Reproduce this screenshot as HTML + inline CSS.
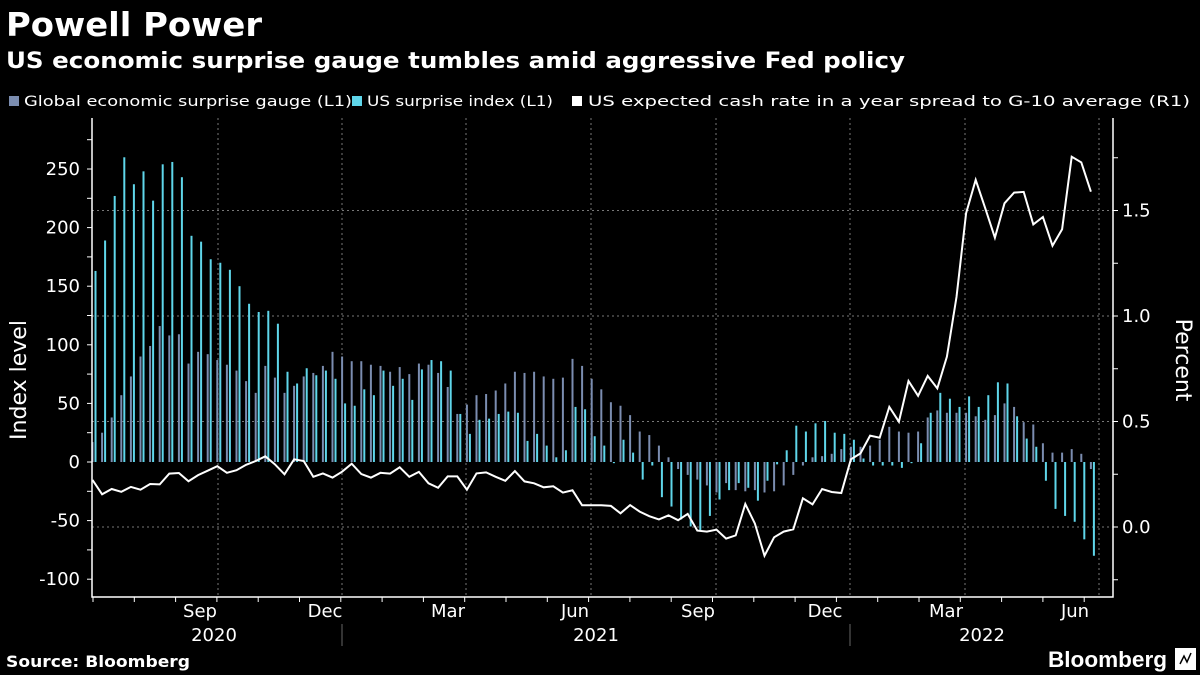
<!DOCTYPE html>
<html><head><meta charset="utf-8">
<style>
html,body{margin:0;padding:0;background:#000;}
body{width:1200px;height:675px;overflow:hidden;font-family:"DejaVu Sans","Liberation Sans",sans-serif;color:#fff;position:relative;}
</style></head>
<body>
<svg id="chart" width="1200" height="675" style="position:absolute;left:0;top:0;">
<text x="6" y="36" fill="#fff" font-size="33" font-weight="bold" font-family="DejaVu Sans, sans-serif" textLength="256" lengthAdjust="spacingAndGlyphs">Powell Power</text>
<text x="6" y="68" fill="#fff" font-size="22" font-weight="bold" font-family="DejaVu Sans, sans-serif" textLength="899" lengthAdjust="spacingAndGlyphs">US economic surprise gauge tumbles amid aggressive Fed policy</text>
<g font-family="DejaVu Sans, sans-serif" font-size="14.5" fill="#fff">
<rect x="9" y="96" width="10" height="10" fill="#7b8db0"/>
<text x="24" y="106" textLength="328" lengthAdjust="spacingAndGlyphs">Global economic surprise gauge (L1)</text>
<rect x="352" y="96" width="10" height="10" fill="#5fd6ea"/>
<text x="367" y="106" textLength="186" lengthAdjust="spacingAndGlyphs">US surprise index (L1)</text>
<rect x="572" y="96" width="10" height="10" fill="#fff"/>
<text x="588" y="106" textLength="602" lengthAdjust="spacingAndGlyphs">US expected cash rate in a year spread to G-10 average (R1)</text>
</g>
<text x="6" y="667" fill="#fff" font-size="16" font-weight="bold" font-family="DejaVu Sans, sans-serif" textLength="184" lengthAdjust="spacingAndGlyphs">Source: Bloomberg</text>
<text x="1048" y="667" fill="#fff" font-size="22" font-weight="bold" font-family="Liberation Sans, sans-serif" textLength="119" lengthAdjust="spacingAndGlyphs">Bloomberg</text>
<g>
<rect x="1175" y="648" width="21" height="22" fill="#fff"/>
<path d="M1180,664 L1184,656 L1187,662 L1191,653" stroke="#000" stroke-width="1.5" fill="none"/>
</g>
</svg>
<script>
const globalVals=[17,25,38,57,73,90,99,116,108,109,84,94,92,87,83,78,69,59,82,72,59,65,73,76,82,94,90,86,86,83,82,77,81,75,84,83,76,64,41,49,57,58,61,67,77,76,77,73,71,72,88,82,71,62,51,48,40,26,23,14,4,-6,-11,-15,-20,-26,-18,-24,-25,-24,-26,-25,-20,-11,-3,4,5,7,11,13,13,14,19,30,26,25,26,38,44,42,42,42,39,36,40,50,47,34,32,16,8,8,11,7,-6];
const usVals=[163,189,227,260,237,248,223,254,256,243,193,188,173,170,164,150,135,128,129,118,77,67,80,74,78,71,50,48,62,57,78,65,71,53,79,87,86,78,41,24,36,37,41,43,42,18,24,14,4,10,47,45,22,14,-1,19,8,-15,-3,-30,-38,-49,-55,-58,-46,-32,-24,-18,-22,-33,-16,-2,10,31,26,33,35,25,24,19,3,-3,-3,-3,-5,-1,16,42,59,54,47,56,47,57,68,67,39,20,13,-16,-40,-46,-51,-66,-80];
const rateVals=[0.223,0.155,0.18,0.167,0.19,0.177,0.204,0.202,0.253,0.256,0.217,0.246,0.267,0.288,0.257,0.269,0.295,0.313,0.335,0.297,0.25,0.321,0.313,0.238,0.254,0.234,0.262,0.3,0.251,0.234,0.257,0.253,0.283,0.238,0.261,0.207,0.186,0.24,0.24,0.177,0.254,0.259,0.238,0.219,0.265,0.216,0.207,0.188,0.193,0.163,0.174,0.103,0.103,0.103,0.1,0.065,0.104,0.073,0.051,0.036,0.055,0.032,0.062,-0.017,-0.022,-0.013,-0.055,-0.04,0.109,0.016,-0.136,-0.049,-0.022,-0.011,0.136,0.107,0.18,0.166,0.161,0.321,0.349,0.433,0.423,0.569,0.499,0.692,0.622,0.716,0.657,0.807,1.09,1.487,1.645,1.51,1.371,1.534,1.585,1.588,1.434,1.469,1.333,1.411,1.755,1.728,1.589];
const leftTicks=[250,200,150,100,50,0,-50,-100];
const rightTicks=[1.5,1.0,0.5,0.0];
const monthLabels=["Sep","Dec","Mar","Jun","Sep","Dec","Mar","Jun"];
const monthGrid=[218,342,466,591,716,850,965,1099];
const monthLabelX=[200,325,448,575,698,825,946,1075];
const years=["2020","2021","2022"];

const svg=document.getElementById('chart');
const NS='http://www.w3.org/2000/svg';
const FF='DejaVu Sans, sans-serif';
function yL(v){return 462-v*1.172;}
function yR(v){return 527-v*211;}
function xW(i){return 92.5+i*9.6;}
function mk(tag,attrs,parent){const e=document.createElementNS(NS,tag);for(const k in attrs)e.setAttribute(k,attrs[k]);(parent||svg).appendChild(e);return e;}

rightTicks.forEach(v=>{const g=mk('line',{x1:92,x2:1113,y1:yR(v),y2:yR(v),stroke:'#777','stroke-width':1,'stroke-dasharray':'2,3'});

});
monthGrid.forEach(x=>{const g=mk('line',{x1:x,x2:x,y1:118,y2:597,stroke:'#777','stroke-width':1,'stroke-dasharray':'2,3'});

});

globalVals.forEach((v,i)=>{const y0=yL(0),y1=yL(v);const r=mk('rect',{x:xW(i)-1,y:Math.min(y0,y1),width:2,height:Math.max(0.5,Math.abs(y1-y0)),fill:'#7b8db0'});

});
usVals.forEach((v,i)=>{const y0=yL(0),y1=yL(v);const r=mk('rect',{x:xW(i)+2,y:Math.min(y0,y1),width:2,height:Math.max(0.5,Math.abs(y1-y0)),fill:'#5fd6ea'});

});
const pts=rateVals.map((v,i)=>xW(i).toFixed(1)+','+yR(v).toFixed(1)).join(' ');
const pl=mk('polyline',{points:pts,fill:'none',stroke:'#fff','stroke-width':2,'stroke-linejoin':'miter'});



const ax=mk('path',{d:'M92,118V597H1113V118',fill:'none',stroke:'#fff','stroke-width':1.5});


for(let v=-100;v<=275;v+=25){const t=mk('line',{x1:87,x2:92,y1:yL(v),y2:yL(v),stroke:'#fff'});

}
for(let v=-0.25;v<=1.76;v+=0.25){const t=mk('line',{x1:1113,x2:1118,y1:yR(v),y2:yR(v),stroke:'#fff'});

}
leftTicks.forEach(v=>{const t=mk('text',{x:80,y:yL(v)+6,'text-anchor':'end',fill:'#fff','font-size':18,'font-family':FF});t.textContent=v;

});
rightTicks.forEach(v=>{const t=mk('text',{x:1122,y:yR(v)+6,fill:'#fff','font-size':18,'font-family':FF});t.textContent=v.toFixed(1);

});
for(let k=0;k<25;k++){const x=93+k*41.3;if(x>1113)break;const t=mk('line',{x1:x,x2:x,y1:597,y2:602,stroke:'#fff'});

}
monthLabels.forEach((m,i)=>{const t=mk('text',{x:monthLabelX[i],y:617,'text-anchor':'middle',fill:'#fff','font-size':18,'font-family':FF});t.textContent=m;

});
const yearX=[214,596,982];
years.forEach((yv,i)=>{const t=mk('text',{x:yearX[i],y:641,'text-anchor':'middle',fill:'#fff','font-size':18,'font-family':FF});t.textContent=yv;

});
[342,850].forEach(x=>{const l=mk('line',{x1:x,x2:x,y1:624,y2:646,stroke:'#666'});

});
const yt=mk('text',{x:0,y:0,transform:'translate(26,380) rotate(-90)','text-anchor':'middle',fill:'#fff','font-size':22,'font-family':FF});yt.textContent='Index level';


const rt=mk('text',{x:0,y:0,transform:'translate(1176,360) rotate(90)','text-anchor':'middle',fill:'#fff','font-size':22,'font-family':FF});rt.textContent='Percent';


</script>
</body></html>
